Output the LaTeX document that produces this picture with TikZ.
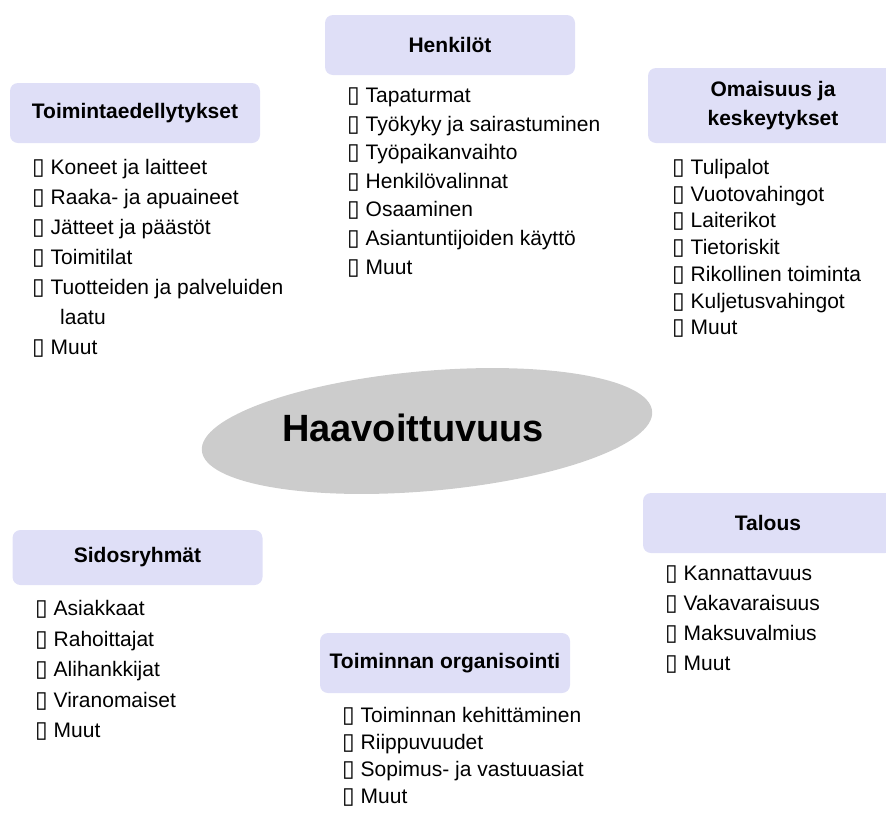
\documentclass[tikz,border=0pt]{standalone}
\usepackage{fontspec}
\setmainfont{Liberation Sans}
\newfontfamily\boxglyph{DejaVu Sans}
\usetikzlibrary{shapes.geometric}
\definecolor{headfill}{HTML}{DFDFF7}
\definecolor{corefill}{HTML}{CCCCCC}
\newcommand{\itm}{{\boxglyph\fontsize{23}{23}\selectfont ▯}\ }
\tikzset{
  head/.style={fill=headfill, rounded corners=8pt, minimum width=250pt,
    minimum height=60pt, inner sep=0pt, align=center,
    font=\fontsize{21}{29}\selectfont\bfseries},
  items/.style={anchor=base west, align=left, inner sep=0pt}
}
\begin{document}
\begin{tikzpicture}[x=1pt,y=-1pt]
    \useasboundingbox (0,0) rectangle (886,812);
    \clip (0,0) rectangle (886,812);

    % keskusaihe
    \node[ellipse, fill=corefill, minimum width=452pt, minimum height=120pt, rotate=5] (core) at (427,431) {};
    \node[font=\fontsize{38}{40}\selectfont\bfseries] (title) at (413,428) {Haavoittuvuus};

    % otsikot
    \node[head] (toim) at (135,113) {Toimintaedellytykset};
    \node[head] (henk) at (450,45) {Henkilöt};
    \node[head, minimum height=75pt] (omai) at (773,105.5) {Omaisuus ja\\keskeytykset};
    \node[head, minimum height=55pt] (sido) at (137.5,557.5) {Sidosryhmät};
    \node[head] (orga) at (445,663) {Toiminnan organisointi};
    \node[head] (talo) at (768,523) {Talous};

    % luettelot (sijainti = viimeisen rivin perusviiva)
    \node[items, font=\fontsize{21}{30}\selectfont] (toimlist) at (32,354.5) {\itm Koneet ja laitteet\\
        \itm Raaka- ja apuaineet\\ \itm Jätteet ja päästöt\\ \itm Toimitilat\\
        \itm Tuotteiden ja palveluiden\\ \hspace*{28pt}laatu\\ \itm Muut};
    \node[items, font=\fontsize{21}{28.6}\selectfont] (henklist) at (347,274.1) {\itm Tapaturmat\\
        \itm Työkyky ja sairastuminen\\ \itm Työpaikanvaihto\\ \itm Henkilövalinnat\\
        \itm Osaaminen\\ \itm Asiantuntijoiden käyttö\\ \itm Muut};
    \node[items, font=\fontsize{21}{26.7}\selectfont] (omailist) at (672,334.7) {\itm Tulipalot\\
        \itm Vuotovahingot\\ \itm Laiterikot\\ \itm Tietoriskit\\
        \itm Rikollinen toiminta\\ \itm Kuljetusvahingot\\ \itm Muut};
    \node[items, font=\fontsize{21}{30.5}\selectfont] (sidolist) at (35,737.5) {\itm Asiakkaat\\
        \itm Rahoittajat\\ \itm Alihankkijat\\ \itm Viranomaiset\\ \itm Muut};
    \node[items, font=\fontsize{21}{27}\selectfont] (orgalist) at (342,803.5) {\itm Toiminnan kehittäminen\\
        \itm Riippuvuudet\\ \itm Sopimus- ja vastuuasiat\\ \itm Muut};
    \node[items, font=\fontsize{21}{30}\selectfont] (talolist) at (665,670.5) {\itm Kannattavuus\\
        \itm Vakavaraisuus\\ \itm Maksuvalmius\\ \itm Muut};
\end{tikzpicture}
\end{document}
